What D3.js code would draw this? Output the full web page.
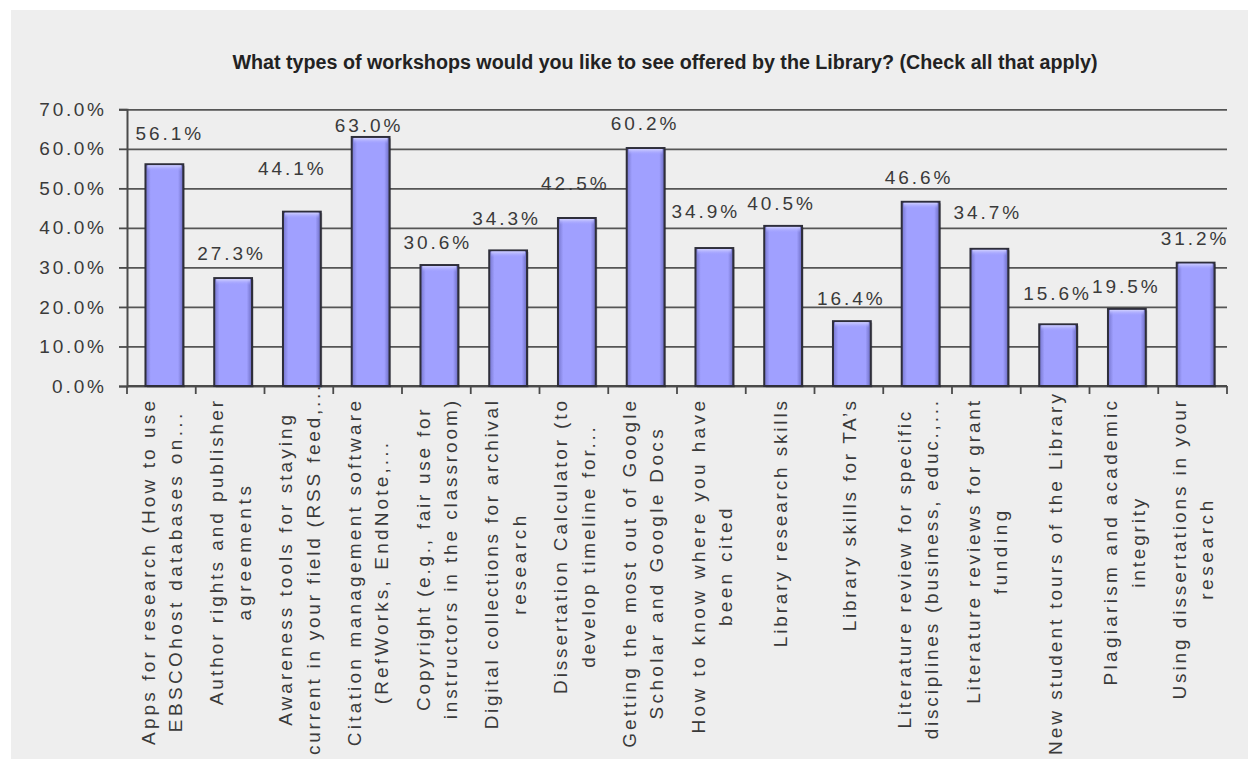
<!DOCTYPE html>
<html>
<head>
<meta charset="utf-8">
<script src="https://cdn.jsdelivr.net/npm/d3@7"></script>
<style>
  body { margin: 0; background: #fff; }
  svg text { font-family: "Liberation Sans", Arial, sans-serif; fill: #3a3a3a; }
</style>
</head>
<body>
<script>
// data
const categories = [
  ["Apps for research (How to use", "EBSCOhost databases on..."],
  ["Author rights and publisher", "agreements"],
  ["Awareness tools for staying", "current in your field (RSS feed,..."],
  ["Citation management software", "(RefWorks, EndNote,..."],
  ["Copyright (e.g., fair use for", "instructors in the classroom)"],
  ["Digital collections for archival", "research"],
  ["Dissertation Calculator (to", "develop timeline for..."],
  ["Getting the most out of Google", "Scholar and Google Docs"],
  ["How to know where you have", "been cited"],
  ["Library research skills"],
  ["Library skills for TA\u2019s"],
  ["Literature review for specific", "disciplines (business, educ.,..."],
  ["Literature reviews for grant", "funding"],
  ["New student tours of the Library"],
  ["Plagiarism and academic", "integrity"],
  ["Using dissertations in your", "research"]
];
const values = [56.1, 27.3, 44.1, 63.0, 30.6, 34.3, 42.5, 60.2, 34.9, 40.5, 16.4, 46.6, 34.7, 15.6, 19.5, 31.2];
const yTicks = [0, 10, 20, 30, 40, 50, 60, 70];
const yTickLabels = ["0.0%", "10.0%", "20.0%", "30.0%", "40.0%", "50.0%", "60.0%", "70.0%"];
const title = "What types of workshops would you like to see offered by the Library? (Check all that apply)";

// the value labels sit a bit unevenly in the original
const labelDx = [7, 0, -8, 0, 0, 0, 0, 1, -7, 0, 1, 0, 0, 1, 1, 1];
const labelLift = [31, 25, 44, 12, 23, 32, 35, 25, 37, 23, 23, 25, 37, 31, 23, 25];

const W = 1248, H = 759;
const plotL = 127, plotR = 1227, plotT = 109.3, plotB = 386;

const svg = d3.select("body").append("svg")
  .attr("width", W).attr("height", H);

svg.append("rect")
  .attr("x", 11).attr("y", 10)
  .attr("width", W - 11).attr("height", H - 10)
  .attr("fill", "#eeeeee");

const defs = svg.append("defs");
const g1 = defs.append("linearGradient").attr("id", "barfill")
  .attr("x1", 0).attr("x2", 1).attr("y1", 0).attr("y2", 0);
g1.append("stop").attr("offset", "0%").attr("stop-color", "#7474cc");
g1.append("stop").attr("offset", "14%").attr("stop-color", "#a0a0ff");
g1.append("stop").attr("offset", "86%").attr("stop-color", "#a0a0ff");
g1.append("stop").attr("offset", "100%").attr("stop-color", "#6a6ac0");
const g2 = defs.append("linearGradient").attr("id", "bartop")
  .attr("x1", 0).attr("x2", 0).attr("y1", 0).attr("y2", 1);
g2.append("stop").attr("offset", "0%").attr("stop-color", "#d0d0ff");
g2.append("stop").attr("offset", "100%").attr("stop-color", "#a0a0ff").attr("stop-opacity", 0);

const x = d3.scaleBand()
  .domain(d3.range(categories.length))
  .range([plotL, plotR])
  .paddingInner(0).paddingOuter(0);

const y = d3.scaleLinear()
  .domain([0, 70])
  .range([plotB, plotT]);

// the original text is drawn wide, so stretch the spacing a little
function widen(sel, k) {
  sel.each(function () {
    const len = this.getComputedTextLength();
    d3.select(this).attr("textLength", len * k).attr("lengthAdjust", "spacing");
  });
}

// title
svg.append("text")
  .attr("x", 665).attr("y", 69)
  .attr("text-anchor", "middle")
  .attr("textLength", 865)
  .attr("lengthAdjust", "spacingAndGlyphs")
  .style("font-family", "'Liberation Sans Narrow', 'Arial Narrow', 'Liberation Sans', sans-serif")
  .style("font-weight", "bold")
  .style("font-size", "20px")
  .style("fill", "#222")
  .text(title);

// gridlines
svg.append("g")
  .attr("transform", `translate(${plotL},0)`)
  .call(d3.axisLeft(y).tickValues(yTicks).tickSize(-(plotR - plotL)).tickFormat(""))
  .call(g => g.select(".domain").remove())
  .call(g => g.selectAll("line").attr("stroke", "#555").attr("stroke-width", 1.8));

// y axis
svg.append("g")
  .attr("transform", `translate(${plotL},0)`)
  .call(d3.axisLeft(y).tickValues(yTicks).tickSize(8).tickPadding(15)
    .tickFormat((d, i) => yTickLabels[i]))
  .call(g => g.select(".domain").attr("stroke", "#4a4a4a").attr("stroke-width", 2))
  .call(g => g.selectAll("line").attr("stroke", "#4a4a4a").attr("stroke-width", 1.8))
  .call(g => g.selectAll("text")
    .style("font-size", "19px")
    .style("font-family", "'Liberation Sans', Arial, sans-serif")
    .attr("fill", "#3a3a3a")
    .call(widen, 1.2));

// x axis line and ticks at category boundaries
const bounds = x.domain().map(i => x(i)).concat([plotR]);
svg.append("line")
  .attr("x1", plotL).attr("x2", plotR)
  .attr("y1", y(0)).attr("y2", y(0))
  .attr("stroke", "#4a4a4a").attr("stroke-width", 2);
svg.append("g").selectAll("line").data(bounds).join("line")
  .attr("x1", d => d).attr("x2", d => d)
  .attr("y1", y(0)).attr("y2", y(0) + 8)
  .attr("stroke", "#4a4a4a").attr("stroke-width", 1.8);

// bars
const bw = x.bandwidth() * 0.55;
const bars = svg.append("g").selectAll("g").data(values).join("g")
  .attr("transform", (d, i) => `translate(${x(i) + x.bandwidth() / 2 - bw / 2 + 3},0)`);
bars.append("rect")
  .attr("x", 1.5).attr("y", d => y(d) + 1.5)
  .attr("width", bw).attr("height", d => y(0) - y(d))
  .attr("fill", "#000").attr("opacity", 0.25);
bars.append("rect")
  .attr("y", d => y(d))
  .attr("width", bw).attr("height", d => y(0) - y(d))
  .attr("fill", "url(#barfill)")
  .attr("stroke", "#2e2e3a").attr("stroke-width", 2);
bars.append("rect")
  .attr("x", 2).attr("y", d => y(d) + 1)
  .attr("width", bw - 4).attr("height", 6)
  .attr("fill", "url(#bartop)");

// value labels
svg.append("g").selectAll("text").data(values).join("text")
  .attr("x", (d, i) => x(i) + x.bandwidth() / 2 + labelDx[i])
  .attr("y", (d, i) => y(d) - labelLift[i] + 7)
  .attr("text-anchor", "middle")
  .style("font-size", "19px")
  .text(d => d.toFixed(1) + "%")
  .call(widen, 1.22);

// category labels, rotated, lines centred on each other
const catG = svg.append("g").selectAll("g").data(categories).join("g");
catG.each(function (lines, i) {
  const g = d3.select(this);
  const n = lines.length;
  const ts = lines.map((t, k) => g.append("text")
    .attr("text-anchor", "middle")
    .attr("y", (k - (n - 1) / 2) * 27.5 + 7)
    .style("font-size", "19px")
    .text(t));
  ts.forEach(t => widen(t, 1.34));
  const maxLen = d3.max(ts, t => +t.attr("textLength"));
  ts.forEach(t => t.attr("x", -maxLen / 2));
  // long ones are pushed up so they stay on the page
  const topY = Math.min(401, H - 4 - maxLen);
  g.attr("transform", `translate(${x(i) + x.bandwidth() / 2},${topY}) rotate(-90)`);
});
</script>
</body>
</html>
